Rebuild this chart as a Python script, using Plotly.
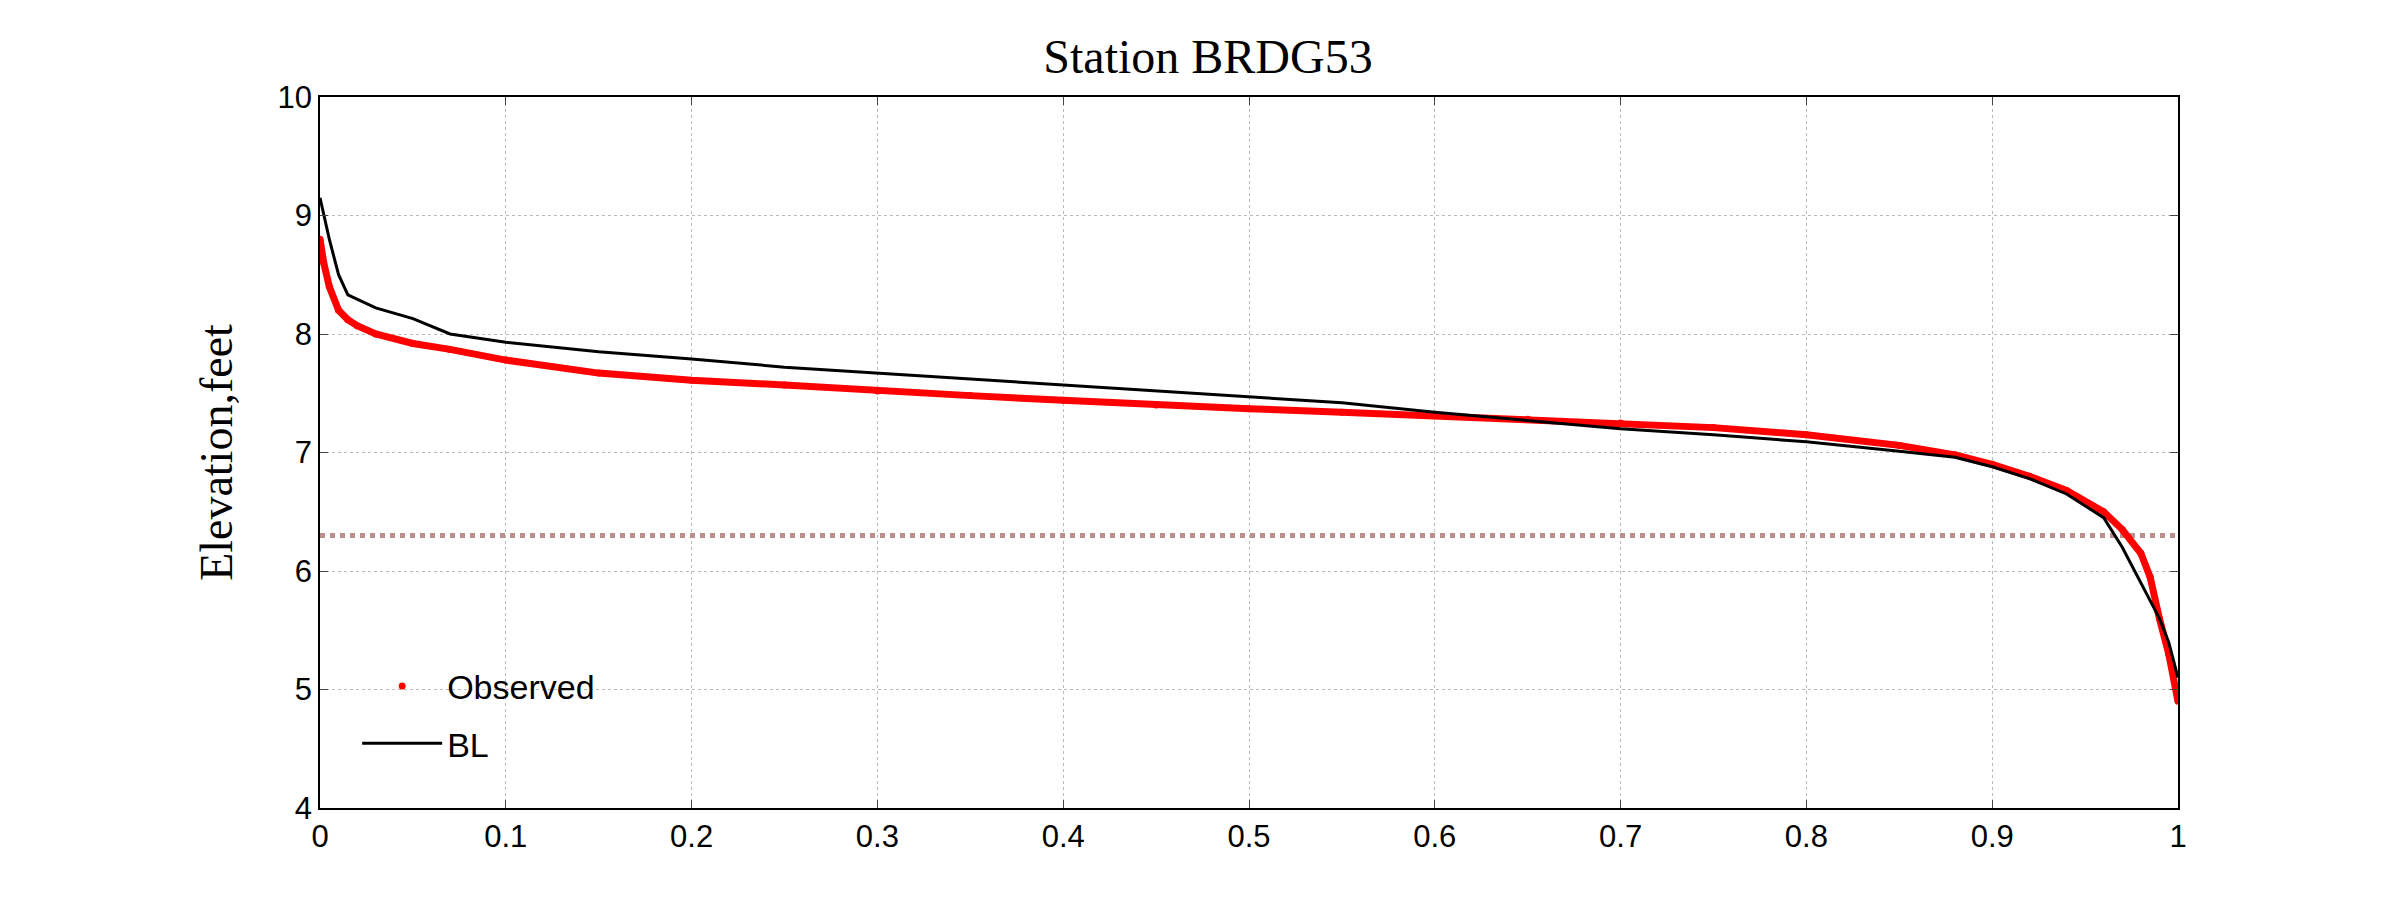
import plotly.graph_objects as go

# exceedance probability vs elevation
obs_x = [0, 0.002, 0.005, 0.01, 0.015, 0.02, 0.03, 0.05, 0.07, 0.1, 0.15, 0.2, 0.25, 0.3, 0.35,
         0.4, 0.45, 0.5, 0.55, 0.6, 0.65, 0.7, 0.75, 0.8, 0.85, 0.88, 0.9, 0.92, 0.94, 0.96,
         0.97, 0.98, 0.985, 0.99, 0.995, 1.0]
obs_y = [8.8, 8.6, 8.4, 8.2, 8.12, 8.07, 8.0, 7.92, 7.87, 7.78, 7.67, 7.61, 7.57, 7.52, 7.48,
         7.44, 7.40, 7.37, 7.34, 7.31, 7.28, 7.25, 7.21, 7.15, 7.06, 6.98, 6.9, 6.8, 6.68, 6.5,
         6.35, 6.15, 5.95, 5.6, 5.3, 4.9]

bl_x = [0, 0.005, 0.01, 0.015, 0.03, 0.05, 0.07, 0.1, 0.15, 0.2, 0.25, 0.3, 0.35, 0.4, 0.45,
        0.5, 0.55, 0.6, 0.65, 0.7, 0.75, 0.8, 0.85, 0.88, 0.9, 0.92, 0.94, 0.96, 0.97, 0.98,
        0.99, 0.995, 1.0]
bl_y = [9.15, 8.8, 8.5, 8.33, 8.22, 8.13, 8.0, 7.93, 7.85, 7.79, 7.72, 7.67, 7.62, 7.57, 7.52,
        7.47, 7.42, 7.34, 7.27, 7.2, 7.15, 7.09, 7.01, 6.96, 6.88, 6.78, 6.65, 6.45, 6.2, 5.9,
        5.6, 5.4, 5.1]

threshold = 6.3

fig = go.Figure()
fig.add_trace(go.Scatter(x=[0, 1], y=[threshold, threshold], mode='lines', showlegend=False,
                         line=dict(color='#bc8f8f', width=5, dash='dot')))
# thick band of observed dots, legend shown as a dot only
fig.add_trace(go.Scatter(x=obs_x, y=obs_y, mode='lines', showlegend=False, legendgroup='obs',
                         line=dict(color='red', width=7)))
fig.add_trace(go.Scatter(x=obs_x, y=obs_y, mode='markers', name='Observed', legendgroup='obs',
                         marker=dict(color='red', size=7)))
fig.add_trace(go.Scatter(x=bl_x, y=bl_y, mode='lines', name='BL',
                         line=dict(color='black', width=3)))

axis_common = dict(showline=True, linecolor='black', linewidth=1.5, mirror='ticks',
                   ticks='inside', ticklen=8, showgrid=True, gridcolor='#bbbbbb',
                   griddash='dot', zeroline=False,
                   tickfont=dict(family='Liberation Sans', size=31, color='black'))
fig.update_xaxes(range=[0, 1], tickvals=[0, 0.1, 0.2, 0.3, 0.4, 0.5, 0.6, 0.7, 0.8, 0.9, 1],
                 ticktext=['0', '0.1', '0.2', '0.3', '0.4', '0.5', '0.6', '0.7', '0.8', '0.9', '1'],
                 **axis_common)
fig.update_yaxes(range=[4, 10], dtick=1, title=dict(text='Elevation,feet', standoff=30,
                 font=dict(family='Liberation Serif', size=46, color='black')), **axis_common)

fig.update_layout(
    width=2400, height=900, plot_bgcolor='white', paper_bgcolor='white',
    margin=dict(l=312, r=230, t=89, b=100),
    title=dict(text='Station BRDG53', x=0.5, xanchor='center', y=0.965,
               font=dict(family='Liberation Serif', size=48, color='black')),
    legend=dict(x=0.02, y=0.05, xanchor='left', yanchor='bottom', bgcolor='rgba(0,0,0,0)',
                font=dict(family='Liberation Sans', size=34, color='black'), itemwidth=80),
)

fig.write_html("out.html")
